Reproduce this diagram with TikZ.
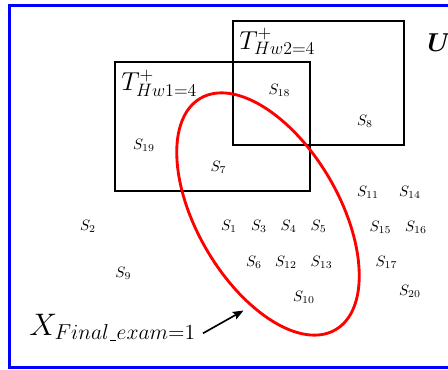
\documentclass[tikz,border=0pt]{standalone}
\usepackage{bm}
\usetikzlibrary{arrows.meta}
\newcommand{\lowbar}{\mbox{\kern0.7pt\rule[-0.6pt]{3.8pt}{0.5pt}\kern0.7pt}}
\begin{document}
\begin{tikzpicture}[x=0.6667pt,y=-0.6667pt,
  slabel/.style={anchor=base,inner sep=0pt},
  tlabel/.style={anchor=base west,inner sep=0pt,font=\LARGE},
  setbox/.style={draw=black,line width=1.3pt},
  frame/.style={draw=blue,line width=2.4pt},
  exam/.style={draw=red,line width=1.9pt},
  pointer/.style={draw=black,line width=1.1pt,-{Stealth[length=7pt,width=5.5pt,inset=1pt]}}]
\useasboundingbox (0,0) rectangle (448,370);
\begin{scope}
\clip (0,0) rectangle (448,370);
\draw[frame] (9.5,5.5) rectangle (470,367.5);
\end{scope}
% set boxes
\draw[setbox] (115,62) rectangle (310,191);
\draw[setbox] (233,21) rectangle (404,145);
% red ellipse
\draw[exam,rotate around={-59.7:(268,214)}] (268,214) ellipse [x radius=134, y radius=71];
% labels
\node[tlabel] (t2) at (239,49) {$T^{+}_{Hw2=4}$};
\node[tlabel] (t1) at (121,90.5) {$T^{+}_{Hw1=4}$};
\node[anchor=base west,inner sep=0pt,font=\LARGE] (u) at (427,51) {$\bm{U}$};
\node[slabel] (s18) at (279.5,94) {$S_{18}$};
\node[slabel] (s8) at (365,125) {$S_{8}$};
\node[slabel] (s19) at (144,149) {$S_{19}$};
\node[slabel] (s7) at (218.5,171) {$S_{7}$};
\node[slabel] (s11) at (368,196) {$S_{11}$};
\node[slabel] (s14) at (410,196) {$S_{14}$};
\node[slabel] (s2) at (88,230.5) {$S_{2}$};
\node[slabel] (s1) at (229,230.5) {$S_{1}$};
\node[slabel] (s3) at (259,230.5) {$S_{3}$};
\node[slabel] (s4) at (288.7,230.5) {$S_{4}$};
\node[slabel] (s5) at (318.7,230.5) {$S_{5}$};
\node[slabel] (s15) at (380.5,231) {$S_{15}$};
\node[slabel] (s16) at (416,231) {$S_{16}$};
\node[slabel] (s6) at (254,266.7) {$S_{6}$};
\node[slabel] (s12) at (286,266.7) {$S_{12}$};
\node[slabel] (s13) at (321.7,266.7) {$S_{13}$};
\node[slabel] (s17) at (386.5,266.7) {$S_{17}$};
\node[slabel] (s9) at (123.3,277) {$S_{9}$};
\node[slabel] (s20) at (410,295.7) {$S_{20}$};
\node[slabel] (s10) at (304,301.7) {$S_{10}$};
\node[anchor=base west,inner sep=0pt,font=\huge] (x) at (29,335) {$X_{Final\lowbar exam=1}$};
% arrow
\coordinate (arrtail) at (203,333.3);
\coordinate (arrtip) at (243.5,310.5);
\draw[pointer] (arrtail) -- (arrtip);
\end{tikzpicture}
\end{document}
